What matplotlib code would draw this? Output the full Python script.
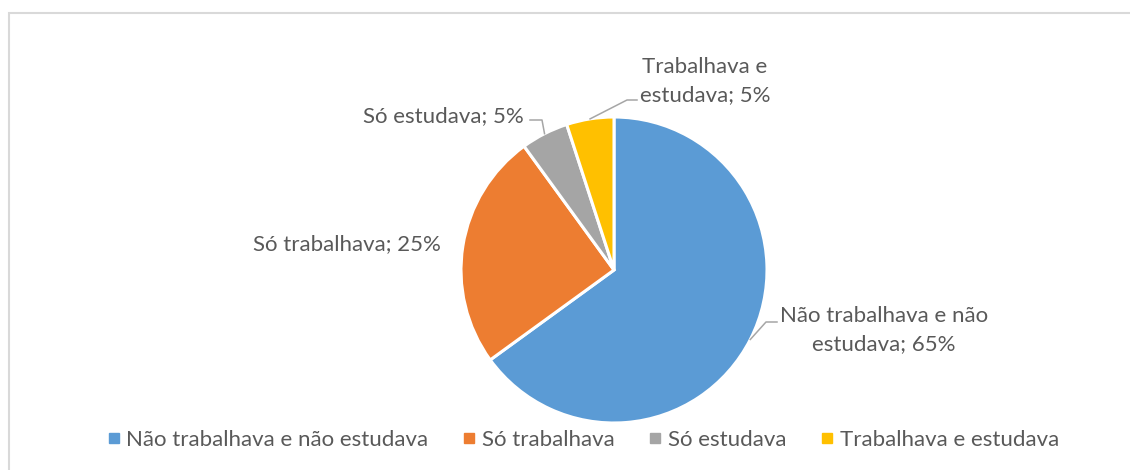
import numpy as np
import matplotlib
matplotlib.use("Agg")
import matplotlib.pyplot as plt
from matplotlib.patches import Rectangle
from matplotlib.lines import Line2D

categories = ["Não trabalhava e não estudava", "Só trabalhava", "Só estudava", "Trabalhava e estudava"]
values = [65, 25, 5, 5]
label_texts = ["Não trabalhava e não\nestudava; 65%", "Só trabalhava; 25%", "Só estudava; 5%", "Trabalhava e\nestudava; 5%"]
colors = ["#5B9BD5", "#ED7D31", "#A5A5A5", "#FFC000"]

W, H = 1130, 470
plt.rcParams['font.family'] = ['Lato', 'DejaVu Sans']
TXT = "#595959"
FS = 16.0

fig = plt.figure(figsize=(W / 100, H / 100), dpi=100)
fig.patch.set_facecolor("white")

# chart frame
fig.patches.append(Rectangle((9 / W, -0.1), 1.2, (H - 13) / H + 0.1, transform=fig.transFigure,
                             fill=False, edgecolor="#D9D9D9", linewidth=1.5))

cx, cy, R = 614, 270, 153
ax = fig.add_axes([(cx - R) / W, (H - cy - R) / H, 2 * R / W, 2 * R / H])
wedges, _ = ax.pie(values, colors=colors, startangle=90, counterclock=False, radius=1,
                   wedgeprops=dict(edgecolor="white", linewidth=2.2))
ax.set_xlim(-1, 1)
ax.set_ylim(-1, 1)
ax.set_aspect("equal")
ax.axis("off")

def px(x, y):
    return ((x - cx) / R, (cy - y) / R)

# label placement (pixel positions), elbow points
label_pos = [(884, 330, "center"), (441, 244, "right"), (524, 116, "right"), (705, 81, "center")]
elbows = [[(766, 322), (777, 322)], None, [(542, 120), (530, 120)], [(627, 100), (637, 100)]]

total = sum(values)
cum = 0
for i, v in enumerate(values):
    mid = (cum + v / 2) / total * 360
    cum += v
    ang = np.deg2rad(90 - mid)
    ex, ey = np.cos(ang), np.sin(ang)
    lx, ly, ha = label_pos[i]
    tx, ty = px(lx, ly)
    ax.text(tx, ty, label_texts[i], ha=ha, va="center", fontsize=FS, color=TXT,
            linespacing=1.45, clip_on=False)
    if elbows[i] is not None:
        pts = [(ex, ey)] + [px(*p) for p in elbows[i]]
        xs, ys = zip(*pts)
        ax.add_line(Line2D(xs, ys, color="#A6A6A6", linewidth=1.1, clip_on=False))

handles = [Line2D([], [], marker="s", linestyle="none", markersize=7.5,
                  markerfacecolor=c, markeredgecolor=c) for c in colors]
fig.legend(handles, categories, loc="center", bbox_to_anchor=(583 / W, 1 - 440 / H), ncol=4,
           frameon=False, fontsize=FS, labelcolor=TXT, handlelength=0.6, handletextpad=0.25,
           columnspacing=1.55)

fig.savefig("out.png", dpi=100, facecolor="white")
